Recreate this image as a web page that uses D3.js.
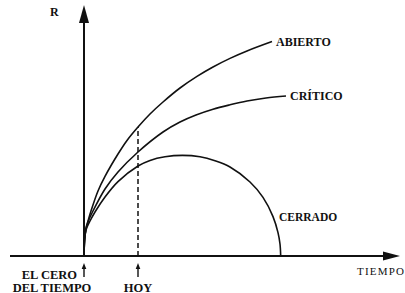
<!DOCTYPE html>
<html>
<head>
<meta charset="utf-8">
<script src="https://cdn.jsdelivr.net/npm/d3@7"></script>
<style>
  html, body { margin: 0; padding: 0; background: #fff; }
  svg { display: block; }
  text { font-family: "Liberation Serif", "DejaVu Serif", serif; fill: #111; }
</style>
</head>
<body>
<svg id="chart" width="405" height="293"></svg>
<script>
// ---- data (time t, radius R in arbitrary units) ----
const abiertoT = [0, 0.03, 0.1, 0.2, 0.35, 0.7, 1.05, 1.7, 2.15, 2.7, 3.3, 3.95, 4.8, 5.65, 6.45, 7.3, 8.15, 9.4];
const abiertoR = [0, 0.8, 1.4, 1.75, 2.25, 3.25, 3.98, 5.1, 5.78, 6.45, 7.1, 7.7, 8.4, 8.98, 9.45, 9.88, 10.25, 10.72];

const criticoT = [0, 0.03, 0.1, 0.22, 0.45, 1.05, 1.7, 2.7, 3.95, 4.8, 5.6, 6.45, 7.3, 8.15, 9.1, 10.1];
const criticoR = [0, 0.8, 1.35, 1.75, 2.25, 3.35, 4.2, 5.2, 6.2, 6.7, 7.05, 7.34, 7.56, 7.75, 7.9, 8.0];

const cerradoT = [0, 0.03, 0.1, 0.3, 0.55, 1.05, 1.7, 2.7, 3.3, 4.05, 4.92, 5.8, 6.55, 7.3, 8.3, 8.95, 9.45, 9.7, 9.8, 9.835];
const cerradoR = [0, 0.75, 1.3, 1.75, 2.2, 2.95, 3.72, 4.5, 4.78, 4.96, 5.03, 4.96, 4.76, 4.45, 3.7, 2.93, 1.97, 1.17, 0.6, 0];

const curveNames = ["ABIERTO", "CRÍTICO", "CERRADO"];
const hoyT = 2.7;          // "today"
const axisT = [-3.7, 15.8]; // extent of time axis
const axisR = [0, 12.55];   // extent of R axis
const axisLabels = { y: "R", x: "TIEMPO" };
const markerLabels = { zero: ["EL CERO", "DEL TIEMPO"], hoy: "HOY" };

// ---- scales ----
const x = d3.scaleLinear().domain([0, 10]).range([84, 284]);
const y = d3.scaleLinear().domain([0, 10]).range([256, 56]);

const svg = d3.select("#chart");
const ink = "#111";

const line = d3.line()
  .x(d => x(d[0])).y(d => y(d[1]))
  .curve(d3.curveCatmullRom.alpha(0.5));

const series = [
  d3.zip(abiertoT, abiertoR),
  d3.zip(criticoT, criticoR),
  d3.zip(cerradoT, cerradoR)
];

// axes
svg.append("line")
  .attr("x1", x(axisT[0])).attr("x2", x(axisT[1]) - 10)
  .attr("y1", y(0)).attr("y2", y(0))
  .attr("stroke", ink).attr("stroke-width", 2);
svg.append("path")
  .attr("d", `M${x(axisT[1])},${y(0)} L${x(axisT[1]) - 17},${y(0) - 4.5} L${x(axisT[1]) - 17},${y(0) + 4.5} Z`)
  .attr("fill", ink);

svg.append("line")
  .attr("x1", x(0)).attr("x2", x(0))
  .attr("y1", y(0)).attr("y2", y(axisR[1]) + 10)
  .attr("stroke", ink).attr("stroke-width", 2);
svg.append("path")
  .attr("d", `M${x(0)},${y(axisR[1])} L${x(0) - 5},${y(axisR[1]) + 18} L${x(0) + 5},${y(axisR[1]) + 18} Z`)
  .attr("fill", ink);

// dashed "today" line up to the ABIERTO curve
const abiertoAtHoy = abiertoR[abiertoT.indexOf(hoyT)];
svg.append("line")
  .attr("x1", x(hoyT)).attr("x2", x(hoyT))
  .attr("y1", y(0)).attr("y2", y(abiertoAtHoy))
  .attr("stroke", ink).attr("stroke-width", 1.5)
  .attr("stroke-dasharray", "5,3");

// curves
svg.selectAll("path.curve")
  .data(series)
  .join("path")
  .attr("class", "curve")
  .attr("d", line)
  .attr("fill", "none")
  .attr("stroke", ink)
  .attr("stroke-width", 1.6);

// curve labels
const lastA = series[0][series[0].length - 1];
const lastC = series[1][series[1].length - 1];
svg.append("text").text(curveNames[0])
  .attr("x", x(lastA[0]) + 4).attr("y", y(lastA[1]) + 4)
  .attr("font-size", 12).attr("font-weight", "bold");
svg.append("text").text(curveNames[1])
  .attr("x", x(lastC[0]) + 4).attr("y", y(lastC[1]) + 4)
  .attr("font-size", 12).attr("font-weight", "bold");
svg.append("text").text(curveNames[2])
  .attr("x", x(9.75)).attr("y", y(1.75))
  .attr("font-size", 11.5).attr("font-weight", "bold");

// axis labels
svg.append("text").text(axisLabels.y)
  .attr("x", 50).attr("y", 15.5)
  .attr("font-size", 12).attr("font-weight", "bold");
svg.append("text").text(axisLabels.x)
  .attr("x", 357).attr("y", 274.5)
  .attr("font-size", 11).attr("letter-spacing", 1.2);

// small up-arrows under the axis
[0, hoyT].forEach(t => {
  const cx = x(t);
  svg.append("line")
    .attr("x1", cx).attr("x2", cx).attr("y1", 277).attr("y2", 266)
    .attr("stroke", ink).attr("stroke-width", 1.4);
  svg.append("path")
    .attr("d", `M${cx},263 L${cx - 2.3},269 L${cx + 2.3},269 Z`)
    .attr("fill", ink);
});

svg.append("text").text(markerLabels.zero[0])
  .attr("x", x(0) - 7).attr("y", 279).attr("text-anchor", "end")
  .attr("font-size", 12.5).attr("font-weight", "bold");
svg.append("text").text(markerLabels.zero[1])
  .attr("x", 52).attr("y", 291.5).attr("text-anchor", "middle")
  .attr("font-size", 12.5).attr("font-weight", "bold");
svg.append("text").text(markerLabels.hoy)
  .attr("x", x(hoyT)).attr("y", 291.5).attr("text-anchor", "middle")
  .attr("font-size", 12.5).attr("font-weight", "bold");
</script>
</body>
</html>
